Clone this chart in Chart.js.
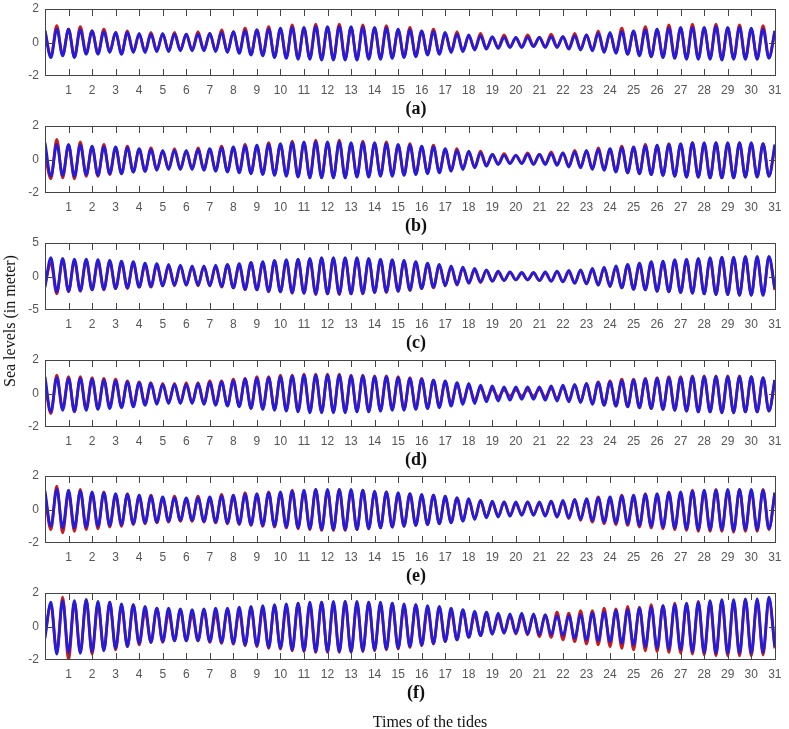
<!DOCTYPE html>
<html>
<head>
<meta charset="utf-8">
<script src="https://cdn.jsdelivr.net/npm/chart.js@4.4.1/dist/chart.umd.min.js"></script>
<style>
body { margin: 0; background: #fff; width: 789px; height: 729px; position: relative; overflow: hidden; }
.panel { position: absolute; left: 0; width: 789px; height: 110px; }
.cap { position: absolute; font: bold 18px "Liberation Serif", "Times New Roman", serif; color: #111; transform: translate(-50%, -50%); white-space: nowrap; }
.ttl { position: absolute; font: 16px "Liberation Serif", "Times New Roman", serif; color: #111; white-space: nowrap; transform: translate(-50%, -50%); }
</style>
</head>
<body>
<script>
// sample times (days) of the high / low waters
const sampleDays = [0,0.25,0.5,0.75,1,1.25,1.5,1.75,2,2.25,2.5,2.75,3,3.25,3.5,3.75,4,4.25,4.5,4.75,5,5.25,5.5,5.75,6,6.25,6.5,6.75,7,7.25,7.5,7.75,8,8.25,8.5,8.75,9,9.25,9.5,9.75,10,10.25,10.5,10.75,11,11.25,11.5,11.75,12,12.25,12.5,12.75,13,13.25,13.5,13.75,14,14.25,14.5,14.75,15,15.25,15.5,15.75,16,16.25,16.5,16.75,17,17.25,17.5,17.75,18,18.25,18.5,18.75,19,19.25,19.5,19.75,20,20.25,20.5,20.75,21,21.25,21.5,21.75,22,22.25,22.5,22.75,23,23.25,23.5,23.75,24,24.25,24.5,24.75,25,25.25,25.5,25.75,26,26.25,26.5,26.75,27,27.25,27.5,27.75,28,28.25,28.5,28.75,29,29.25,29.5,29.75,30,30.25,30.5,30.75,31];
const dayTicks = [1,2,3,4,5,6,7,8,9,10,11,12,13,14,15,16,17,18,19,20,21,22,23,24,25,26,27,28,29,30,31];
const panelNames = ["(a)", "(b)", "(c)", "(d)", "(e)", "(f)"];
const yTickLists = [[-2,0,2], [-2,0,2], [-5,0,5], [-2,0,2], [-2,0,2], [-2,0,2]];
// true: the first sample is a high water
const peakFirst = [true, true, false, true, true, false];

// (a)
const aBlueHigh = [0.7,0.8,0.8,0.75,0.7,0.65,0.6,0.6,0.55,0.5,0.55,0.5,0.5,0.5,0.55,0.6,0.65,0.7,0.75,0.8,0.85,0.9,0.9,0.95,0.95,0.95,0.95,0.9,0.9,0.85,0.8,0.75,0.7,0.65,0.6,0.5,0.45,0.4,0.35,0.3,0.3,0.3,0.3,0.35,0.35,0.4,0.45,0.55,0.6,0.65,0.7,0.75,0.8,0.85,0.9,0.9,0.9,0.95,0.9,0.9,0.85,0.8,0.7];
const aBlueLow = [-0.9,-0.8,-0.9,-0.7,-0.7,-0.6,-0.7,-0.6,-0.6,-0.55,-0.55,-0.5,-0.5,-0.5,-0.55,-0.6,-0.65,-0.75,-0.8,-0.9,-0.95,-1.0,-1.0,-1.05,-1.05,-1.05,-1.05,-1.0,-1.0,-0.95,-0.9,-0.85,-0.75,-0.7,-0.6,-0.55,-0.45,-0.4,-0.35,-0.3,-0.3,-0.25,-0.3,-0.3,-0.4,-0.45,-0.5,-0.6,-0.65,-0.7,-0.8,-0.85,-0.9,-0.95,-1.0,-1.0,-1.0,-1.05,-1.0,-1.0,-1.0,-0.95];
const aRedHigh = [0.7,1.0,0.8,0.95,0.7,0.8,0.6,0.7,0.5,0.6,0.5,0.6,0.5,0.65,0.55,0.75,0.65,0.85,0.75,0.95,0.8,1.05,0.85,1.1,0.9,1.1,0.9,1.05,0.85,1.0,0.75,0.9,0.65,0.8,0.55,0.65,0.4,0.55,0.3,0.45,0.25,0.45,0.3,0.5,0.35,0.55,0.45,0.7,0.55,0.85,0.65,0.95,0.75,1.05,0.85,1.1,0.85,1.1,0.85,1.05,0.8,1.0,0.65];
const aRedLow = [-0.8,-0.75,-0.85,-0.65,-0.65,-0.55,-0.65,-0.55,-0.55,-0.5,-0.5,-0.45,-0.45,-0.45,-0.5,-0.55,-0.6,-0.7,-0.75,-0.85,-0.9,-0.95,-0.95,-1.0,-1.0,-1.0,-1.0,-0.95,-0.95,-0.9,-0.85,-0.8,-0.7,-0.65,-0.55,-0.5,-0.4,-0.35,-0.3,-0.25,-0.25,-0.2,-0.25,-0.25,-0.35,-0.4,-0.45,-0.55,-0.6,-0.7,-0.75,-0.85,-0.85,-0.9,-0.95,-0.95,-0.95,-1.0,-0.95,-0.95,-0.95,-0.9];

// (b)
const bBlueHigh = [1.0,0.9,0.9,0.85,0.8,0.75,0.75,0.7,0.65,0.6,0.55,0.55,0.55,0.6,0.65,0.7,0.75,0.8,0.85,0.9,0.95,1.0,1.05,1.05,1.05,1.05,1.0,1.0,1.0,0.95,0.9,0.85,0.8,0.75,0.65,0.55,0.5,0.4,0.3,0.25,0.25,0.3,0.3,0.35,0.4,0.45,0.55,0.6,0.65,0.7,0.75,0.8,0.85,0.9,0.95,1.0,1.0,1.0,1.0,1.0,1.0,0.95,0.9];
const bBlueLow = [-1.0,-0.95,-1.0,-0.9,-0.95,-0.85,-0.85,-0.75,-0.7,-0.65,-0.6,-0.6,-0.6,-0.65,-0.7,-0.75,-0.8,-0.85,-0.9,-0.95,-1.0,-1.05,-1.1,-1.1,-1.1,-1.1,-1.05,-1.05,-1.0,-1.0,-0.95,-0.9,-0.85,-0.8,-0.7,-0.6,-0.5,-0.4,-0.3,-0.25,-0.25,-0.3,-0.3,-0.35,-0.45,-0.5,-0.6,-0.65,-0.75,-0.8,-0.85,-0.9,-0.95,-1.0,-1.05,-1.05,-1.1,-1.1,-1.1,-1.05,-1.05,-1.0];
const bRedHigh = [0.3,1.2,0.85,1.05,0.75,0.9,0.7,0.8,0.6,0.7,0.5,0.65,0.5,0.7,0.6,0.8,0.7,0.9,0.8,1.0,0.9,1.1,1.0,1.15,1.0,1.15,0.95,1.1,0.95,1.05,0.85,0.95,0.75,0.85,0.6,0.65,0.45,0.5,0.3,0.35,0.25,0.4,0.3,0.45,0.4,0.55,0.5,0.7,0.6,0.8,0.7,0.9,0.8,0.95,0.9,1.0,0.95,1.0,0.95,1.0,0.95,0.95,0.7];
const bRedLow = [-1.15,-1.1,-1.15,-1.0,-1.0,-0.9,-0.85,-0.75,-0.7,-0.6,-0.55,-0.55,-0.55,-0.6,-0.65,-0.7,-0.75,-0.8,-0.85,-0.9,-0.95,-1.0,-1.05,-1.05,-1.05,-1.05,-1.0,-1.0,-0.95,-0.95,-0.9,-0.85,-0.8,-0.75,-0.65,-0.55,-0.45,-0.35,-0.25,-0.2,-0.2,-0.25,-0.25,-0.3,-0.4,-0.45,-0.55,-0.6,-0.7,-0.8,-0.85,-0.9,-0.95,-1.0,-1.05,-1.05,-1.1,-1.1,-1.1,-1.05,-1.05,-1.0];

// (c)
const cBlueHigh = [2.8,2.7,2.6,2.6,2.5,2.4,2.3,2.2,2.0,1.9,1.8,1.7,1.6,1.6,1.7,1.8,1.9,2.1,2.2,2.4,2.5,2.6,2.7,2.8,2.8,2.8,2.8,2.7,2.6,2.5,2.4,2.2,2.0,1.8,1.6,1.4,1.2,1.0,0.8,0.7,0.6,0.6,0.7,0.8,0.9,1.0,1.2,1.4,1.6,1.8,2.0,2.2,2.3,2.5,2.6,2.7,2.8,2.9,2.9,3.0,3.0,3.0];
const cBlueLow = [-1.6,-2.3,-2.2,-2.1,-2.0,-1.9,-1.8,-1.7,-1.6,-1.5,-1.4,-1.3,-1.3,-1.3,-1.4,-1.5,-1.7,-1.9,-2.0,-2.2,-2.3,-2.4,-2.5,-2.6,-2.6,-2.6,-2.6,-2.5,-2.4,-2.3,-2.2,-2.0,-1.8,-1.6,-1.4,-1.2,-1.0,-0.8,-0.7,-0.6,-0.5,-0.5,-0.6,-0.7,-0.8,-1.0,-1.1,-1.3,-1.5,-1.7,-1.9,-2.0,-2.2,-2.3,-2.4,-2.5,-2.6,-2.7,-2.7,-2.8,-2.8,-2.8,-1.8];
const cRedHigh = [2.0,2.5,2.3,2.4,2.2,2.2,2.0,2.0,1.7,1.7,1.5,1.6,1.4,1.5,1.5,1.7,1.7,2.0,2.0,2.3,2.3,2.5,2.5,2.7,2.6,2.7,2.6,2.6,2.4,2.4,2.2,2.1,1.8,1.7,1.4,1.3,1.0,0.9,0.6,0.6,0.5,0.5,0.5,0.7,0.7,0.9,1.0,1.3,1.4,1.7,1.8,2.1,2.1,2.4,2.4,2.6,2.6,2.8,2.7,2.9,2.8,2.9];
const cRedLow = [-1.2,-2.6,-2.3,-2.2,-2.0,-2.0,-1.8,-1.8,-1.6,-1.6,-1.4,-1.4,-1.3,-1.4,-1.4,-1.6,-1.7,-2.0,-2.0,-2.3,-2.3,-2.5,-2.5,-2.7,-2.6,-2.7,-2.6,-2.6,-2.4,-2.4,-2.2,-2.1,-1.8,-1.7,-1.4,-1.3,-1.0,-0.9,-0.7,-0.6,-0.5,-0.5,-0.6,-0.7,-0.8,-1.0,-1.1,-1.3,-1.5,-1.7,-1.9,-2.0,-2.2,-2.3,-2.4,-2.5,-2.6,-2.7,-2.7,-2.8,-2.8,-2.8,-2.0];

// (d)
const dBlueHigh = [1.0,0.95,0.9,0.9,0.85,0.8,0.75,0.7,0.65,0.6,0.55,0.55,0.55,0.6,0.65,0.7,0.75,0.85,0.9,0.95,1.0,1.05,1.1,1.1,1.1,1.1,1.05,1.05,1.0,1.0,0.95,0.9,0.85,0.8,0.75,0.65,0.6,0.5,0.45,0.4,0.4,0.4,0.4,0.45,0.5,0.55,0.6,0.65,0.7,0.75,0.8,0.85,0.9,0.95,0.95,1.0,1.0,1.0,1.0,1.0,1.0,0.95,0.8];
const dBlueLow = [-1.1,-1.0,-1.05,-1.0,-0.95,-0.9,-0.85,-0.8,-0.7,-0.65,-0.6,-0.6,-0.6,-0.65,-0.7,-0.75,-0.8,-0.9,-0.95,-1.0,-1.05,-1.1,-1.15,-1.15,-1.15,-1.15,-1.1,-1.1,-1.05,-1.0,-1.0,-0.95,-0.9,-0.85,-0.75,-0.65,-0.6,-0.5,-0.45,-0.4,-0.35,-0.35,-0.4,-0.45,-0.5,-0.55,-0.65,-0.7,-0.75,-0.8,-0.85,-0.9,-0.95,-1.0,-1.05,-1.1,-1.1,-1.15,-1.15,-1.1,-1.1,-1.05];
const dRedHigh = [0.6,1.1,1.0,1.0,0.95,0.9,0.85,0.75,0.7,0.65,0.6,0.6,0.65,0.65,0.75,0.75,0.85,0.9,1.0,1.0,1.1,1.1,1.15,1.15,1.15,1.15,1.1,1.1,1.05,1.05,1.0,0.95,0.9,0.8,0.7,0.55,0.45,0.35,0.25,0.2,0.2,0.2,0.25,0.3,0.4,0.5,0.6,0.7,0.75,0.85,0.85,0.9,0.95,1.0,1.0,1.05,1.05,1.05,1.05,1.05,1.0,0.95,0.8];
const dRedLow = [-1.2,-0.9,-1.1,-0.9,-0.9,-0.8,-0.8,-0.7,-0.65,-0.6,-0.55,-0.55,-0.55,-0.6,-0.65,-0.7,-0.75,-0.85,-0.9,-0.95,-1.0,-1.05,-1.1,-1.1,-1.1,-1.1,-1.05,-1.05,-1.0,-0.95,-0.95,-0.9,-0.85,-0.75,-0.6,-0.5,-0.4,-0.3,-0.2,-0.15,-0.15,-0.15,-0.2,-0.3,-0.4,-0.5,-0.6,-0.7,-0.75,-0.8,-0.85,-0.9,-0.95,-1.0,-1.05,-1.1,-1.1,-1.15,-1.15,-1.1,-1.1,-1.05];

// (e)
const eBlueHigh = [1.1,1.2,1.15,1.1,1.05,1.0,0.95,0.9,0.85,0.8,0.75,0.7,0.7,0.7,0.75,0.8,0.85,0.9,0.95,1.0,1.05,1.1,1.15,1.2,1.2,1.2,1.2,1.15,1.1,1.05,1.0,0.95,0.9,0.85,0.8,0.7,0.65,0.55,0.5,0.45,0.45,0.45,0.45,0.5,0.55,0.6,0.65,0.7,0.75,0.8,0.85,0.9,0.95,1.0,1.05,1.1,1.15,1.15,1.2,1.2,1.2,1.15,1.0];
const eBlueLow = [-1.0,-1.1,-1.1,-1.05,-1.0,-0.95,-0.9,-0.85,-0.8,-0.75,-0.7,-0.65,-0.65,-0.7,-0.75,-0.8,-0.85,-0.9,-0.95,-1.0,-1.05,-1.1,-1.15,-1.2,-1.2,-1.2,-1.2,-1.15,-1.1,-1.05,-1.0,-0.95,-0.9,-0.85,-0.8,-0.7,-0.6,-0.5,-0.45,-0.4,-0.35,-0.35,-0.4,-0.45,-0.5,-0.6,-0.65,-0.75,-0.8,-0.85,-0.95,-1.0,-1.05,-1.1,-1.15,-1.2,-1.2,-1.2,-1.25,-1.2,-1.2,-1.15];
const eRedHigh = [0.8,1.4,1.0,1.2,0.95,1.05,0.85,0.95,0.75,0.85,0.65,0.8,0.6,0.8,0.65,0.9,0.75,1.0,0.85,1.05,0.95,1.15,1.05,1.2,1.1,1.2,1.1,1.15,1.0,1.05,0.9,0.95,0.8,0.85,0.7,0.7,0.55,0.55,0.4,0.45,0.35,0.45,0.35,0.5,0.45,0.6,0.55,0.75,0.65,0.85,0.75,0.95,0.85,1.05,0.95,1.15,1.05,1.2,1.1,1.2,1.1,1.2,1.0];
const eRedLow = [-1.2,-1.4,-1.3,-1.2,-1.15,-1.05,-1.0,-0.9,-0.85,-0.8,-0.75,-0.7,-0.7,-0.75,-0.8,-0.85,-0.9,-0.95,-1.0,-1.05,-1.1,-1.15,-1.2,-1.25,-1.25,-1.25,-1.2,-1.15,-1.1,-1.05,-1.0,-0.95,-0.9,-0.85,-0.75,-0.65,-0.55,-0.45,-0.4,-0.35,-0.3,-0.3,-0.35,-0.45,-0.55,-0.65,-0.75,-0.85,-0.9,-0.95,-1.05,-1.1,-1.15,-1.2,-1.25,-1.3,-1.3,-1.3,-1.35,-1.3,-1.3,-1.2];

// (f)
const fBlueHigh = [1.45,1.55,1.55,1.6,1.5,1.45,1.35,1.3,1.2,1.1,1.1,1.05,1.0,1.05,1.1,1.1,1.15,1.2,1.25,1.3,1.35,1.4,1.45,1.45,1.5,1.5,1.5,1.45,1.45,1.4,1.35,1.3,1.25,1.2,1.1,1.0,0.9,0.85,0.8,0.75,0.8,0.75,0.7,0.65,0.65,0.7,0.8,0.85,0.95,1.0,1.1,1.15,1.25,1.3,1.4,1.45,1.55,1.6,1.6,1.65,1.65,1.75];
const fBlueLow = [-0.7,-1.65,-1.55,-1.6,-1.5,-1.45,-1.3,-1.2,-1.0,-0.95,-0.9,-0.85,-0.85,-0.85,-0.9,-0.95,-1.0,-1.1,-1.15,-1.25,-1.3,-1.4,-1.45,-1.5,-1.5,-1.5,-1.5,-1.45,-1.4,-1.35,-1.3,-1.2,-1.1,-1.0,-0.9,-0.8,-0.65,-0.55,-0.45,-0.4,-0.4,-0.45,-0.5,-0.5,-0.55,-0.7,-0.8,-0.85,-0.9,-1.0,-1.1,-1.2,-1.3,-1.35,-1.4,-1.5,-1.55,-1.6,-1.6,-1.6,-1.6,-1.55,-1.2];
const fRedHigh = [1.3,1.75,1.45,1.6,1.35,1.45,1.2,1.3,0.9,1.1,0.8,1.0,0.7,0.95,0.75,1.0,0.9,1.1,1.05,1.25,1.2,1.4,1.3,1.45,1.35,1.5,1.35,1.45,1.3,1.4,1.2,1.3,1.05,1.15,0.9,0.95,0.7,0.75,0.6,0.65,0.6,0.7,0.7,0.85,0.8,0.95,0.95,1.1,1.05,1.2,1.15,1.3,1.25,1.4,1.35,1.5,1.45,1.55,1.5,1.6,1.55,1.65];
const fRedLow = [-0.5,-1.5,-2.0,-1.55,-1.65,-1.4,-1.4,-1.2,-1.1,-0.95,-0.95,-0.85,-0.85,-0.85,-0.95,-1.0,-1.05,-1.15,-1.2,-1.3,-1.35,-1.45,-1.5,-1.55,-1.55,-1.55,-1.55,-1.5,-1.45,-1.4,-1.35,-1.25,-1.15,-1.05,-0.9,-0.8,-0.65,-0.55,-0.45,-0.4,-0.45,-0.5,-0.6,-0.65,-0.8,-0.9,-1.05,-1.1,-1.2,-1.3,-1.4,-1.45,-1.5,-1.55,-1.6,-1.65,-1.7,-1.75,-1.75,-1.75,-1.75,-1.7,-1.3];

const blueHighs = [aBlueHigh, bBlueHigh, cBlueHigh, dBlueHigh, eBlueHigh, fBlueHigh];
const blueLows = [aBlueLow, bBlueLow, cBlueLow, dBlueLow, eBlueLow, fBlueLow];
const redHighs = [aRedHigh, bRedHigh, cRedHigh, dRedHigh, eRedHigh, fRedHigh];
const redLows = [aRedLow, bRedLow, cRedLow, dRedLow, eRedLow, fRedLow];

const panelTop = [9, 126, 243, 360, 476, 593];
const blue = "rgb(36, 28, 218)";
const red = "rgb(204, 26, 22)";

// highs and lows alternate along sampleDays
function buildSeries(highs, lows, startHigh) {
	let pts = [];
	for (let i = 0; i < sampleDays.length; i++) {
		let k = Math.floor(i / 2);
		let isHigh = (i % 2 == 0) == startHigh;
		let v = isHigh ? highs[k] : lows[k];
		if (v !== undefined) pts.push({ x: sampleDays[i], y: v });
	}
	return pts;
}

const frameTicks = {
	id: "frameTicks",
	afterDatasetsDraw(chart) {
		const { ctx, chartArea: a, scales } = chart;
		ctx.save();
		ctx.strokeStyle = "#444";
		ctx.lineWidth = 1;
		ctx.strokeRect(a.left + 0.5, a.top + 0.5, a.width - 1, a.height - 1);
		ctx.beginPath();
		dayTicks.forEach((d) => {
			if (d >= 31) return;
			let px = Math.round(scales.x.getPixelForValue(d)) + 0.5;
			ctx.moveTo(px, a.top);
			ctx.lineTo(px, a.top + 7);
			ctx.moveTo(px, a.bottom);
			ctx.lineTo(px, a.bottom - 7);
		});
		let py = Math.round(scales.y.getPixelForValue(0)) + 0.5;
		ctx.moveTo(a.left, py);
		ctx.lineTo(a.left + 7, py);
		ctx.moveTo(a.right, py);
		ctx.lineTo(a.right - 7, py);
		ctx.stroke();
		ctx.restore();
	},
};

const tickFont = { family: "'Liberation Sans', Arial, sans-serif", size: 12 };

for (let p = 0; p < 6; p++) {
	let div = document.createElement("div");
	div.className = "panel";
	div.style.top = panelTop[p] - 10 + "px";
	let canvas = document.createElement("canvas");
	canvas.width = 789;
	canvas.height = 110;
	canvas.style.width = "789px";
	canvas.style.height = "110px";
	div.appendChild(canvas);
	document.body.appendChild(div);

	let yTicks = yTickLists[p];
	let lim = yTicks[yTicks.length - 1];

	new Chart(canvas, {
		type: "line",
		data: {
			datasets: [
				{
					data: buildSeries(blueHighs[p], blueLows[p], peakFirst[p]),
					borderColor: blue,
					borderWidth: 2.8,
					pointRadius: 0,
					cubicInterpolationMode: "monotone",
				},
				{
					data: buildSeries(redHighs[p], redLows[p], peakFirst[p]),
					borderColor: red,
					borderWidth: 2.8,
					pointRadius: 0,
					cubicInterpolationMode: "monotone",
				},
			],
		},
		options: {
			responsive: false,
			animation: false,
			events: [],
			layout: { padding: { top: 10, right: 13, bottom: 0, left: 0 } },
			plugins: { legend: { display: false }, tooltip: { enabled: false } },
			scales: {
				x: {
					type: "linear",
					min: 0,
					max: 31.05,
					grid: { display: false, drawTicks: false },
					border: { display: false },
					afterBuildTicks: (s) => { s.ticks = dayTicks.map((v) => ({ value: v })); },
					afterFit: (s) => { s.height = 33; s.paddingLeft = 0; s.paddingRight = 0; },
					ticks: { color: "#555", font: tickFont, padding: 7, maxRotation: 0, autoSkip: false },
				},
				y: {
					min: -lim,
					max: lim,
					grid: { display: false, drawTicks: false },
					border: { display: false },
					afterBuildTicks: (s) => { s.ticks = yTicks.map((v) => ({ value: v })); },
					afterFit: (s) => { s.width = 45; s.paddingTop = 0; s.paddingBottom = 0; },
					ticks: { color: "#555", font: tickFont, padding: 6 },
				},
			},
		},
		plugins: [frameTicks],
	});

	let cap = document.createElement("div");
	cap.className = "cap";
	cap.textContent = panelNames[p];
	cap.style.left = "416px";
	cap.style.top = panelTop[p] + 99 + "px";
	document.body.appendChild(cap);
}
</script>
<div class="ttl" style="left:10px;top:321px;transform:translate(-50%,-50%) rotate(-90deg);">Sea levels (in meter)</div>
<div class="ttl" style="left:430px;top:722px;">Times of the tides</div>
</body>
</html>
